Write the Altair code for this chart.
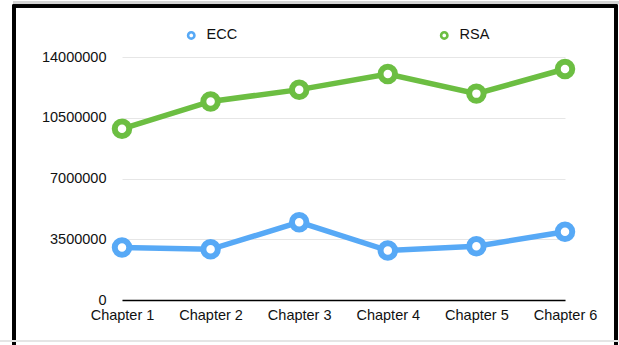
import altair as alt
import pandas as pd

# Chapter-by-chapter totals for the two series
chapters = ["Chapter 1", "Chapter 2", "Chapter 3", "Chapter 4", "Chapter 5", "Chapter 6"]
ecc_values = [3020000, 2920000, 4480000, 2850000, 3100000, 3930000]
rsa_values = [9860000, 11440000, 12120000, 13020000, 11890000, 13310000]
series_names = ["ECC", "RSA"]
series_colors = ["#57a9f6", "#6cbe42"]
y_ticks = [0, 3500000, 7000000, 10500000, 14000000]

df = pd.DataFrame(
    {
        "chapter": chapters * 2,
        "series": ["ECC"] * len(chapters) + ["RSA"] * len(chapters),
        "value": ecc_values + rsa_values,
    }
)

FONT = "Liberation Sans"
color_scale = alt.Scale(domain=series_names, range=series_colors)

x_enc = alt.X(
    "chapter:N",
    sort=chapters,
    scale=alt.Scale(type="point", padding=0),
    axis=alt.Axis(
        title=None,
        labelAngle=0,
        ticks=False,
        grid=False,
        domainColor="#000000",
        domainWidth=1.6,
        labelPadding=8,
        labelFontSize=14.5,
        labelColor="#111111",
        labelFont=FONT,
    ),
)
y_enc = alt.Y(
    "value:Q",
    scale=alt.Scale(domain=[0, 14000000], nice=False),
    axis=alt.Axis(
        title=None,
        values=y_ticks,
        format="d",
        domain=False,
        ticks=False,
        grid=True,
        gridColor="#e6e6e6",
        gridWidth=1,
        labelPadding=16,
        labelFontSize=14.5,
        labelColor="#111111",
        labelFont=FONT,
    ),
)

lines = alt.Chart(df).mark_line(strokeWidth=5.5).encode(
    x=x_enc,
    y=y_enc,
    color=alt.Color(
        "series:N",
        scale=color_scale,
        legend=alt.Legend(
            title=None,
            orient="none",
            direction="horizontal",
            legendX=62,
            legendY=-29,
            symbolType="circle",
            symbolSize=40,
            symbolStrokeWidth=2.6,
            symbolFillColor="white",
            labelFontSize=14.5,
            labelFont=FONT,
            labelColor="#111111",
            labelOffset=8,
            columnPadding=197,
            padding=0,
        ),
    ),
)

points = alt.Chart(df).mark_point(filled=False, fill="white", strokeWidth=6, size=210, opacity=1).encode(
    x=x_enc,
    y=y_enc,
    stroke=alt.Stroke("series:N", scale=color_scale, legend=None),
)

# Outer frame around the whole figure
frame = alt.Chart(df).mark_rect(fill=None, stroke="#000000", strokeWidth=2.6).encode(
    x=alt.value(-108),
    x2=alt.value(494),
    y=alt.value(-51),
    y2=alt.value(320),
)
top_strip = alt.Chart(df).mark_rule(stroke="#d4d4d4", strokeWidth=3).encode(
    x=alt.value(-109), x2=alt.value(497), y=alt.value(-54.5)
)
bottom_line = alt.Chart(df).mark_rule(stroke="#e4e4e4", strokeWidth=1.5).encode(
    x=alt.value(-122), x2=alt.value(497), y=alt.value(284)
)

chart = (
    alt.layer(lines, points, frame, top_strip, bottom_line)
    .properties(
        width=443,
        height=243,
        padding={"left": 122, "top": 57, "right": 54, "bottom": 45},
        autosize=alt.AutoSizeParams(type="none"),
        background="white",
    )
    .configure_view(stroke=None)
)

chart.save("out.html", embed_options={"renderer": "svg", "actions": False})
